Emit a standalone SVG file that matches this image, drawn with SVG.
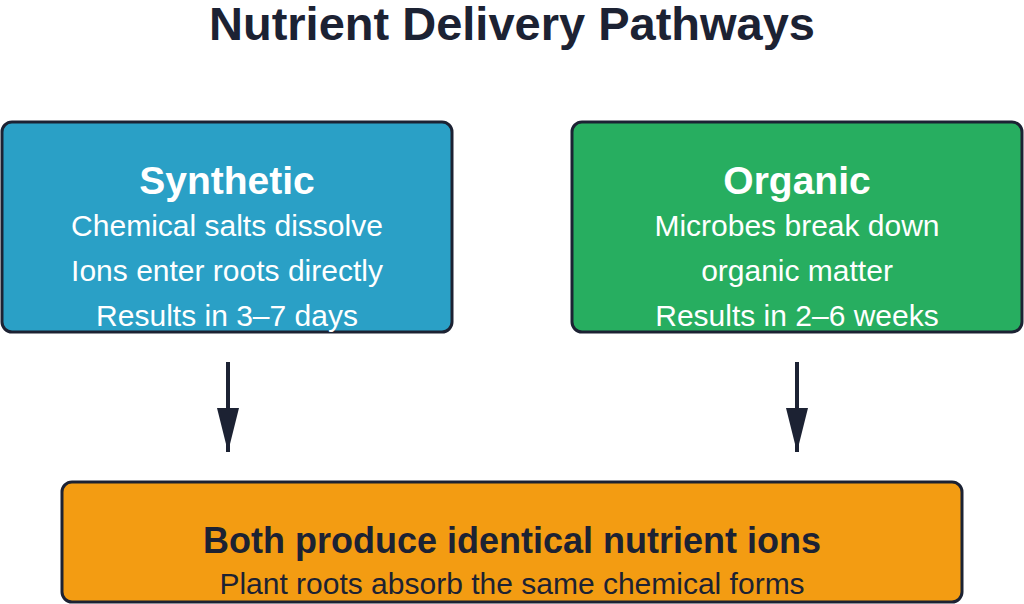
<svg xmlns="http://www.w3.org/2000/svg" width="1024" height="604" viewBox="0 0 1024 604">
<style>
text{font-family:"Liberation Sans",Arial,sans-serif;text-anchor:middle}
.box{stroke:#1c2233;stroke-width:3}
.h{font-weight:bold;font-size:39px}
.w{fill:#fff;font-size:30px}
.h.w{font-size:39px}
.d{fill:#1c2233}
.conn{stroke:#1c2233;stroke-width:4;fill:none}
</style>
<defs><marker id="ah" viewBox="0 0 20 10" refX="20" refY="5" markerWidth="11" markerHeight="5.5" markerUnits="strokeWidth" orient="auto"><path d="M0,0 L20,5 L0,10 z" fill="#1c2233"/></marker></defs>
<rect width="1024" height="604" fill="#fff"/>
<text x="512" y="40" class="h d" style="font-size:47px">Nutrient Delivery Pathways</text>
<g id="synthetic"><rect class="box" x="2" y="122" width="450" height="210" rx="10" fill="#2aa0c6"/>
<text x="227" y="194" class="h w">Synthetic</text>
<text x="227" y="236" class="w">Chemical salts dissolve</text>
<text x="227" y="281" class="w">Ions enter roots directly</text>
<text x="227" y="326" class="w">Results in 3–7 days</text></g>
<g id="organic"><rect class="box" x="572" y="122" width="450" height="210" rx="10" fill="#27ae60"/>
<text x="797" y="194" class="h w">Organic</text>
<text x="797" y="236" class="w">Microbes break down</text>
<text x="797" y="281" class="w">organic matter</text>
<text x="797" y="326" class="w">Results in 2–6 weeks</text></g>
<g id="both"><rect class="box" x="62" y="482" width="900" height="120" rx="10" fill="#f39c12"/>
<text x="512" y="553" class="h d" style="font-size:36px">Both produce identical nutrient ions</text>
<text x="512" y="594" class="d" style="font-size:30px">Plant roots absorb the same chemical forms</text></g>
<g id="connectors">
<line class="conn" x1="228" y1="362" x2="228" y2="452" marker-end="url(#ah)"/>
<line class="conn" x1="797" y1="362" x2="797" y2="452" marker-end="url(#ah)"/>
</g>
</svg>
